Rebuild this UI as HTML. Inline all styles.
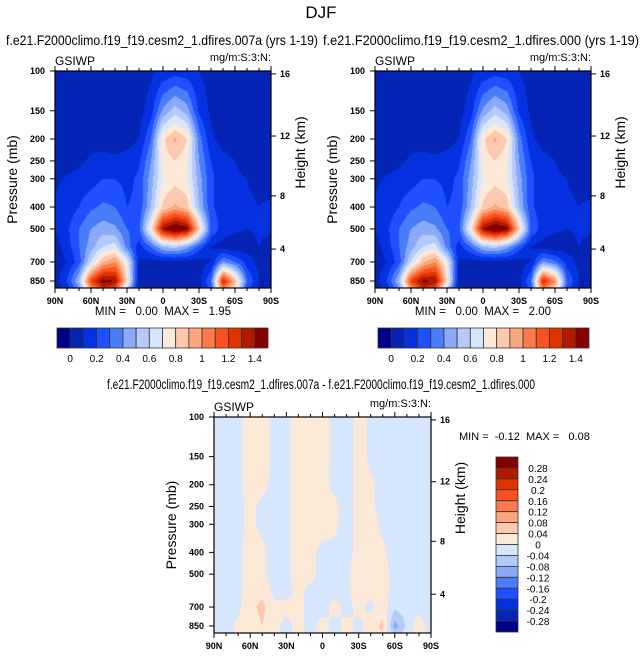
<!DOCTYPE html>
<html><head><meta charset="utf-8">
<style>
html,body{margin:0;padding:0;background:#fff;}
#wrap{position:relative;width:643px;height:658px;overflow:hidden;font-family:"Liberation Sans",sans-serif;}
canvas{position:absolute;}
svg{position:absolute;left:0;top:0;}
svg text{white-space:pre;}
</style></head>
<body>
<div id="wrap">
<canvas id="c1" style="left:55px;top:71px" width="216" height="217"></canvas>
<canvas id="c2" style="left:375px;top:71px" width="216" height="217"></canvas>
<canvas id="c3" style="left:214px;top:417px" width="217" height="216"></canvas>
<svg id="ov" width="643" height="658"></svg>
</div>
<script>
// ---- data ----
const lats = [90,80,70,60,50,40,30,20,10,0,-10,-20,-30,-40,-50,-60,-70,-80,-90];
const pressures = [100,150,200,250,300,400,500,600,700,850,910];
const field1 = [
 [0.05,0.05,0.05,0.05,0.05,0.05,0.05,0.05,0.08,0.12,0.15,0.14,0.1,0.05,0.05,0.05,0.05,0.05,0.05],
 [0.05,0.05,0.05,0.05,0.05,0.05,0.05,0.06,0.15,0.42,0.55,0.45,0.18,0.08,0.05,0.05,0.05,0.05,0.05],
 [0.05,0.05,0.05,0.05,0.05,0.05,0.06,0.1,0.3,0.78,0.92,0.8,0.35,0.12,0.06,0.05,0.05,0.05,0.05],
 [0.05,0.06,0.08,0.12,0.14,0.12,0.14,0.18,0.4,0.75,0.8,0.74,0.4,0.2,0.13,0.1,0.06,0.05,0.05],
 [0.08,0.11,0.13,0.15,0.2,0.2,0.17,0.22,0.45,0.72,0.76,0.72,0.45,0.22,0.15,0.12,0.1,0.07,0.05],
 [0.12,0.14,0.2,0.28,0.32,0.3,0.2,0.22,0.5,0.82,0.92,0.85,0.5,0.22,0.15,0.13,0.12,0.1,0.12],
 [0.1,0.18,0.3,0.4,0.45,0.42,0.3,0.28,0.75,1.4,1.55,1.45,0.85,0.28,0.15,0.12,0.1,0.12,0.12],
 [0.05,0.15,0.3,0.45,0.6,0.65,0.35,0.15,0.3,0.5,0.55,0.45,0.25,0.1,0.06,0.03,0.05,0.1,0.05],
 [0.05,0.1,0.25,0.6,0.9,1.0,0.7,0.08,0.06,0.06,0.06,0.06,0.06,0.1,0.4,0.3,0.15,0.07,0.05],
 [0.05,0.2,0.5,1.2,1.45,1.4,0.8,0.05,0.05,0.05,0.05,0.05,0.06,0.3,1.3,0.9,0.3,0.1,0.05],
 [0.05,0.15,0.4,1.0,1.3,1.2,0.6,0.05,0.05,0.05,0.05,0.05,0.05,0.25,1.1,0.8,0.25,0.08,0.05]
];
const field2 = [
 [0.05,0.05,0.05,0.05,0.05,0.05,0.05,0.05,0.08,0.12,0.15,0.14,0.1,0.05,0.05,0.05,0.05,0.05,0.05],
 [0.05,0.05,0.05,0.05,0.05,0.05,0.05,0.06,0.15,0.42,0.55,0.45,0.18,0.08,0.05,0.05,0.05,0.05,0.05],
 [0.05,0.05,0.05,0.05,0.05,0.05,0.06,0.1,0.3,0.78,0.92,0.8,0.35,0.12,0.06,0.05,0.05,0.05,0.05],
 [0.05,0.06,0.08,0.12,0.14,0.12,0.14,0.18,0.4,0.75,0.8,0.74,0.4,0.2,0.13,0.1,0.06,0.05,0.05],
 [0.08,0.11,0.13,0.15,0.2,0.2,0.17,0.22,0.45,0.72,0.76,0.72,0.45,0.22,0.15,0.12,0.1,0.07,0.05],
 [0.12,0.14,0.2,0.28,0.32,0.3,0.2,0.22,0.5,0.82,0.92,0.85,0.5,0.22,0.15,0.13,0.12,0.1,0.12],
 [0.1,0.18,0.3,0.4,0.45,0.42,0.3,0.28,0.75,1.4,1.55,1.45,0.85,0.28,0.15,0.12,0.1,0.12,0.12],
 [0.05,0.15,0.3,0.45,0.6,0.65,0.35,0.15,0.3,0.5,0.55,0.45,0.25,0.1,0.06,0.03,0.05,0.1,0.05],
 [0.05,0.1,0.25,0.6,0.88,1.0,0.7,0.08,0.06,0.06,0.06,0.06,0.06,0.1,0.4,0.32,0.15,0.07,0.05],
 [0.05,0.2,0.5,1.2,1.42,1.4,0.8,0.05,0.05,0.05,0.05,0.05,0.06,0.3,1.3,1.0,0.3,0.1,0.05],
 [0.05,0.15,0.4,1.0,1.3,1.2,0.6,0.05,0.05,0.05,0.05,0.05,0.05,0.25,1.1,0.85,0.25,0.08,0.05]
];
const fieldDiff = [
 [-0.02,-0.02,-0.01,0.02,0.02,-0.01,-0.01,0.02,0.02,0.015,-0.01,-0.02,0.02,-0.01,-0.02,-0.02,-0.02,-0.02,-0.02],
 [-0.02,-0.02,-0.01,0.02,0.02,-0.01,-0.01,0.02,0.02,0.015,-0.01,-0.02,0.02,-0.01,-0.02,-0.02,-0.02,-0.02,-0.02],
 [-0.02,-0.02,-0.01,0.02,0.01,-0.01,-0.01,0.02,0.02,0.01,-0.01,-0.02,0.02,0.01,-0.02,-0.02,-0.02,-0.02,-0.02],
 [-0.02,-0.02,-0.01,0.01,-0.01,-0.01,-0.01,0.02,0.01,0.01,0.01,-0.02,0.02,0.01,-0.02,-0.02,-0.02,-0.02,-0.02],
 [-0.02,-0.02,-0.01,0.01,-0.01,-0.02,-0.01,0.02,0.01,0.015,0.01,-0.02,0.02,0.02,-0.01,-0.02,-0.02,-0.02,-0.02],
 [-0.02,-0.02,-0.01,0.02,0.01,-0.02,-0.01,0.02,0.01,-0.01,-0.01,-0.02,0.02,0.02,0.01,-0.02,-0.02,-0.02,-0.02],
 [-0.02,-0.02,-0.01,0.02,0.01,-0.02,-0.01,0.02,0.01,-0.01,-0.01,-0.01,0.03,0.02,0.02,-0.02,-0.02,-0.02,-0.02],
 [-0.02,-0.02,-0.01,0.02,0.03,-0.01,-0.01,0.01,-0.01,-0.01,-0.01,-0.01,0.02,0.01,0.02,-0.02,-0.02,-0.02,-0.02],
 [-0.02,-0.02,-0.01,0.03,0.05,0.01,0.01,0.01,-0.01,-0.01,0.01,-0.01,0.01,-0.01,0.02,-0.03,-0.02,-0.02,-0.02],
 [-0.02,-0.02,0.01,0.02,0.04,0.01,-0.01,0.01,-0.01,0.01,-0.01,0.01,-0.01,0.02,0.05,-0.1,-0.03,0.03,-0.02],
 [-0.02,-0.02,0.01,0.02,0.03,0.01,-0.01,0.01,-0.01,0.01,-0.01,0.01,-0.01,0.02,0.04,-0.06,-0.02,0.03,-0.02]
];
const levels1 = [0,0.1,0.2,0.3,0.4,0.5,0.6,0.7,0.8,0.9,1.0,1.1,1.2,1.3,1.4];
const levelLabels1 = ["0","0.2","0.4","0.6","0.8","1","1.2","1.4"];
const levelsDiff = [-0.28,-0.24,-0.2,-0.16,-0.12,-0.08,-0.04,0,0.04,0.08,0.12,0.16,0.2,0.24,0.28];
const levelLabelsDiff = ["-0.28","-0.24","-0.2","-0.16","-0.12","-0.08","-0.04","0","0.04","0.08","0.12","0.16","0.2","0.24","0.28"];
const colors = ["#00008a","#0524b4","#0432e0","#1e50ff","#4a7ef8","#8aaaf9","#b5cafa","#d6e6fd","#fde9d8","#fcc9ae","#fca67e","#fb7a4c","#fb5020","#e03400","#b21a00","#820000"];
const pTicks = [100,150,200,250,300,400,500,700,850];
const hTicks = [16,12,8,4];
const hTickP = [103,194,357,614];
const latTickLabels = ["90N","60N","30N","0","30S","60S","90S"];
const latTickVals = [90,60,30,0,-30,-60,-90];

// ---- helpers ----
const NS="http://www.w3.org/2000/svg";
const ov=document.getElementById('ov');
function el(tag,attrs,txt){const e=document.createElementNS(NS,tag);for(const k in attrs)e.setAttribute(k,attrs[k]);if(txt!==undefined)e.textContent=txt;ov.appendChild(e);return e;}
function colorFor(v,lv){let i=0;while(i<lv.length&&v>=lv[i])i++;return colors[i];}
function hex(c){return [parseInt(c.substr(1,2),16),parseInt(c.substr(3,2),16),parseInt(c.substr(5,2),16)];}

function drawField(id,data,lv){
  const cv=document.getElementById(id),ctx=cv.getContext('2d');
  const w=cv.width,h=cv.height,img=ctx.createImageData(w,h);
  const lp=pressures.map(p=>Math.log(p));
  const pBot=913,k=(Math.log(pBot)-Math.log(100));
  for(let y=0;y<h;y++){
    const lnp=Math.log(100)+k*(y+0.5)/h;
    let r=0;while(r<lp.length-2&&lnp>lp[r+1])r++;
    let fy=(lnp-lp[r])/(lp[r+1]-lp[r]);fy=Math.max(0,Math.min(1,fy));
    for(let x=0;x<w;x++){
      const lat=90-180*(x+0.5)/w;
      let fx=(90-lat)/10;let c=Math.min(17,Math.floor(fx));fx-=c;
      const v=(data[r][c]*(1-fx)+data[r][c+1]*fx)*(1-fy)+(data[r+1][c]*(1-fx)+data[r+1][c+1]*fx)*fy;
      const col=hex(colorFor(v,lv));const o=(y*w+x)*4;
      img.data[o]=col[0];img.data[o+1]=col[1];img.data[o+2]=col[2];img.data[o+3]=255;
    }
  }
  ctx.putImageData(img,0,0);
}

function axes(x0,y0,w,h,pfx){
  const yOf=p=>y0+h*Math.log(p/100)/Math.log(913/100);
  const xOf=lat=>x0+w*(90-lat)/180;
  el('rect',{x:x0,y:y0,width:w,height:h,fill:'none',stroke:'#000','stroke-width':1.2,});
  pTicks.forEach(p=>{const y=yOf(p);
    el('line',{x1:x0-5,y1:y,x2:x0,y2:y,stroke:'#000','stroke-width':1});
    const t=el('text',{x:x0-10,y:y+3,'font-size':9,'font-weight':'bold','text-anchor':'end'},p);
    });
  hTicks.forEach((hk,i)=>{const y=yOf(hTickP[i]);
    el('line',{x1:x0+w,y1:y,x2:x0+w+5,y2:y,stroke:'#000','stroke-width':1});
    const t=el('text',{x:x0+w+9,y:y+3,'font-size':9,'font-weight':'bold'},hk);
    });
  for(let lat=90;lat>=-90;lat-=10){const x=xOf(lat);const maj=lat%30===0;
    el('line',{x1:x,y1:y0+h,x2:x,y2:y0+h+(maj?5:3),stroke:'#000','stroke-width':1});
    el('line',{x1:x,y1:y0,x2:x,y2:y0-(maj?5:3),stroke:'#000','stroke-width':1});}
  latTickVals.forEach((lat,i)=>{const t=el('text',{x:xOf(lat),y:y0+h+16,'font-size':9,'font-weight':'bold','text-anchor':'middle'},latTickLabels[i]);
    });
  const a=el('text',{x:0,y:0,'font-size':14,'text-anchor':'middle',transform:`translate(${x0-38},${y0+h/2}) rotate(-90)`},'Pressure (mb)');
  
  const b=el('text',{x:0,y:0,'font-size':14,'text-anchor':'middle',transform:`translate(${x0+w+34},${y0+h/2-27}) rotate(-90)`},'Height (km)');
  
  const g=el('text',{x:x0,y:y0-6,'font-size':12},'GSIWP');
  
  const u=el('text',{x:x0+w,y:y0-10,'font-size':11,'text-anchor':'end'},'mg/m:S:3:N:');
  
}

function hColorbar(x0,y0,w,h,pfx){
  const bw=w/colors.length;
  colors.forEach((c,i)=>{const r=el('rect',{x:x0+i*bw,y:y0,width:bw,height:h,fill:c,stroke:'#333','stroke-width':0.8});
    });
  levelLabels1.forEach((lab,i)=>{const t=el('text',{x:x0+bw*(1+2*i),y:y0+h+14,'font-size':10,'text-anchor':'middle'},lab);
    });
}

// ---- draw ----
drawField('c1',field1,levels1);
drawField('c2',field2,levels1);
drawField('c3',fieldDiff,levelsDiff);

let t=el('text',{x:321,y:18,'font-size':17,'text-anchor':'middle'},'DJF');

t=el('text',{x:162,y:45,'font-size':13.5,'text-anchor':'middle',textLength:312,lengthAdjust:'spacingAndGlyphs'},'f.e21.F2000climo.f19_f19.cesm2_1.dfires.007a (yrs 1-19)');

t=el('text',{x:481,y:45,'font-size':13.5,'text-anchor':'middle',textLength:316,lengthAdjust:'spacingAndGlyphs'},'f.e21.F2000climo.f19_f19.cesm2_1.dfires.000 (yrs 1-19)');

t=el('text',{x:321,y:389,'font-size':13.5,'text-anchor':'middle',textLength:428,lengthAdjust:'spacingAndGlyphs'},'f.e21.F2000climo.f19_f19.cesm2_1.dfires.007a - f.e21.F2000climo.f19_f19.cesm2_1.dfires.000');


axes(55,71,216,217,'left');
axes(375,71,216,217,'right');
axes(214,417,217,216,'diff');

t=el('text',{x:163,y:315,'font-size':11.5,'text-anchor':'middle'},'MIN =   0.00  MAX =   1.95');

t=el('text',{x:483,y:315,'font-size':11.5,'text-anchor':'middle'},'MIN =   0.00  MAX =   2.00');

t=el('text',{x:459,y:440,'font-size':11},'MIN =  -0.12  MAX =   0.08');


hColorbar(57,328,211,20,'left');
hColorbar(378,328,211,20,'right');

// vertical colorbar for difference
const vx=496,vy=457,vw=22,vh=175,bh=vh/colors.length;
colors.slice().reverse().forEach((c,i)=>{const r=el('rect',{x:vx,y:vy+i*bh,width:vw,height:bh,fill:c,stroke:'#333','stroke-width':0.8});
  });
levelLabelsDiff.slice().reverse().forEach((lab,i)=>{const tt=el('text',{x:vx+vw+20,y:vy+bh*(i+1)+4,'font-size':10,'text-anchor':'middle'},lab);
  });
</script>
</body></html>
